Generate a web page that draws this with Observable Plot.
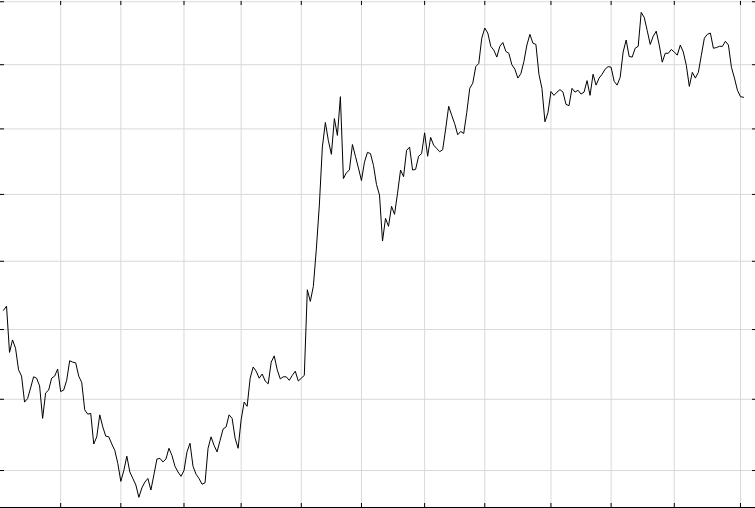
<!DOCTYPE html>
<html>
<head>
<meta charset="utf-8">
<script src="https://cdn.jsdelivr.net/npm/d3@7"></script>
<script src="https://cdn.jsdelivr.net/npm/@observablehq/plot@0.6"></script>
<style>
  html, body { margin: 0; padding: 0; background: #fff; }
  #chart svg { display: block; }
</style>
</head>
<body>
<div id="chart"></div>
<script>
// Daily closing values (one per trading day)
const closes = [
  47.28, 47.34, 46.67, 46.85, 46.73, 46.42, 46.33, 45.96, 46.01, 46.16,
  46.32, 46.30, 46.19, 45.73, 46.09, 46.13, 46.30, 46.33, 46.43, 46.11,
  46.13, 46.27, 46.55, 46.53, 46.52, 46.33, 46.24, 45.85, 45.79, 45.80,
  45.37, 45.47, 45.78, 45.61, 45.48, 45.47, 45.37, 45.28, 45.10, 44.85,
  45.00, 45.20, 44.98, 44.89, 44.80, 44.63, 44.76, 44.84, 44.89, 44.73,
  44.94, 45.16, 45.17, 45.12, 45.16, 45.31, 45.21, 45.06, 44.98, 44.92,
  45.00, 45.26, 45.38, 45.06, 44.95, 44.89, 44.81, 44.83, 45.31, 45.47,
  45.35, 45.26, 45.42, 45.58, 45.61, 45.78, 45.73, 45.45, 45.31, 45.71,
  45.96, 45.90, 46.30, 46.46, 46.40, 46.30, 46.36, 46.26, 46.22, 46.53,
  46.62, 46.42, 46.29, 46.32, 46.32, 46.27, 46.34, 46.40, 46.26, 46.30,
  46.34, 47.58, 47.41, 47.63, 48.18, 48.84, 49.72, 50.10, 49.82, 49.61,
  50.16, 49.90, 50.50, 49.24, 49.33, 49.37, 49.76, 49.58, 49.40, 49.21,
  49.49, 49.64, 49.62, 49.44, 49.15, 48.99, 48.30, 48.64, 48.52, 48.82,
  48.70, 49.02, 49.37, 49.27, 49.67, 49.72, 49.37, 49.38, 49.58, 49.62,
  49.94, 49.58, 49.87, 49.75, 49.70, 49.65, 49.68, 50.00, 50.35, 50.21,
  50.08, 49.91, 49.96, 49.93, 50.25, 50.63, 50.71, 50.97, 51.02, 51.42,
  51.58, 51.50, 51.29, 51.23, 51.12, 51.29, 51.35, 51.21, 51.18, 51.00,
  50.93, 50.79, 50.86, 51.05, 51.31, 51.48, 51.34, 51.32, 50.85, 50.63,
  50.11, 50.25, 50.58, 50.52, 50.57, 50.61, 50.57, 50.38, 50.36, 50.63,
  50.57, 50.60, 50.54, 50.57, 50.75, 50.52, 50.85, 50.68, 50.79, 50.85,
  50.93, 50.97, 50.96, 50.74, 50.68, 50.80, 51.20, 51.39, 51.13, 51.12,
  51.26, 51.29, 51.83, 51.75, 51.54, 51.32, 51.45, 51.53, 51.31, 51.04,
  51.18, 51.18, 51.24, 51.20, 51.15, 51.31, 51.20, 50.99, 50.66, 50.88,
  50.79, 50.88, 51.15, 51.42, 51.48, 51.50, 51.26, 51.27, 51.29, 51.29,
  51.37, 51.31, 50.96, 50.79, 50.60, 50.50, 50.49
];

// Trading-day index of the first session of each month
const monthStarts = [19, 39, 60, 79, 99, 119, 140, 160, 182, 202, 223, 245];

// Value ticks on the log axis
const valueTicks = [45, 46, 47, 48, 49, 50, 51, 52];

const xDomain = [-1, 250];
const yDomain = [44.49, 52.02];

const gridColor = "#d9d9d9";
const noLabel = () => "";

const chart = Plot.plot({
  width: 755,
  height: 508,
  marginTop: 0,
  marginRight: 0,
  marginBottom: 1,
  marginLeft: 0,
  style: { background: "white" },
  x: { type: "linear", domain: xDomain },
  y: { type: "log", domain: yDomain },
  marks: [
    Plot.gridX(monthStarts, { stroke: gridColor, strokeOpacity: 1 }),
    Plot.gridY(valueTicks, { stroke: gridColor, strokeOpacity: 1 }),
    Plot.axisX(monthStarts, { anchor: "bottom", tickSize: -4, tickFormat: noLabel, label: null }),
    Plot.axisX(monthStarts, { anchor: "top", tickSize: -4, tickFormat: noLabel, label: null }),
    Plot.axisY(valueTicks, { anchor: "left", tickSize: -4, tickFormat: noLabel, label: null }),
    Plot.axisY(valueTicks, { anchor: "right", tickSize: -4, tickFormat: noLabel, label: null }),
    Plot.frame({ anchor: "bottom", stroke: "black" }),
    Plot.lineY(closes, { stroke: "black", strokeWidth: 1 })
  ]
});

document.getElementById("chart").appendChild(chart);
</script>
</body>
</html>
